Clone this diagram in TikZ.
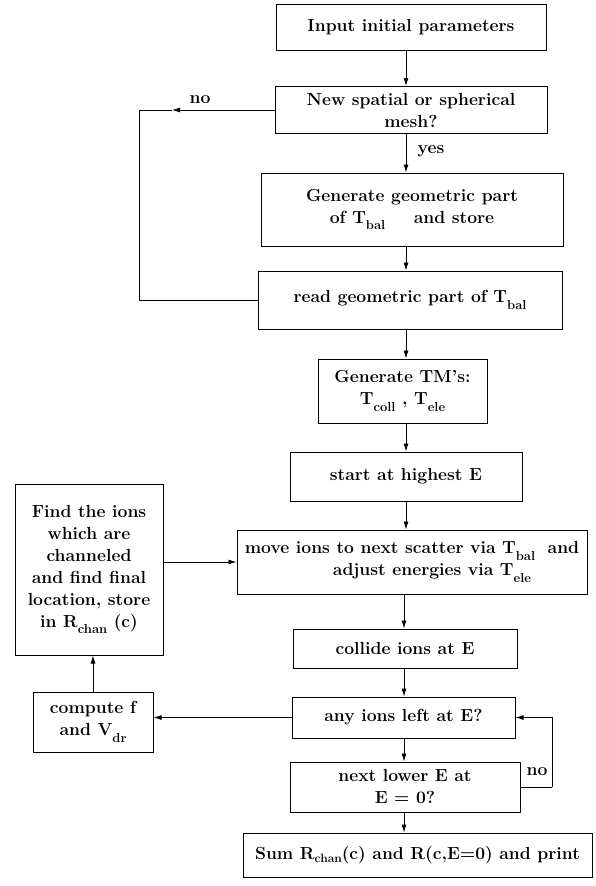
\documentclass[tikz,border=0pt]{standalone}
\usetikzlibrary{arrows.meta}
\newcommand\lsub[1]{\raisebox{-6.5pt}{\fontsize{13}{13}\selectfont #1}}
\newcommand\ssub[1]{\raisebox{-3pt}{\fontsize{12}{12}\selectfont #1}}
\begin{document}
\begin{tikzpicture}[x=1pt,y=-1pt,
  box/.style={draw,line width=1pt,inner sep=0pt,align=center,font=\fontsize{17.5}{22}\selectfont\bfseries},
  arr/.style={line width=0.8pt,-{Latex[length=8pt,width=5pt]}},
  ln/.style={line width=0.8pt},
  lbl/.style={font=\fontsize{17.5}{22}\selectfont\bfseries,inner sep=0pt}]
\useasboundingbox (0,0) rectangle (596,886);
\fill[white] (0,0) rectangle (596,886);

\node[box,minimum width=270pt,minimum height=46pt] (b1) at (411,27) {Input initial parameters};
\node[box,minimum width=272pt,minimum height=47pt] (b2) at (411,110) {New spatial or spherical\\mesh?};
\node[box,minimum width=302pt,minimum height=73pt] (b3) at (412,209.5) {Generate geometric part\\of T\lsub{bal}\hspace{22pt} and store};
\node[box,minimum width=304pt,minimum height=58pt] (b4) at (410,300) {read geometric part of T\lsub{bal}};
\node[box,minimum width=169pt,minimum height=64pt] (b5) at (402.5,391) {Generate TM's:\\T\lsub{coll} , T\lsub{ele}};
\node[box,minimum width=232pt,minimum height=49pt] (b6) at (406,476.5) {start at highest E};
\node[box,minimum width=350pt,minimum height=64pt] (b7) at (412,562) {move ions to next scatter via T\lsub{bal}\hspace{6pt} and\\\hspace*{40pt}adjust energies via T\lsub{ele}};
\node[box,minimum width=224pt,minimum height=39pt] (b8) at (405,648.5) {collide ions at E};
\node[box,minimum width=223pt,minimum height=41pt] (b9) at (403.5,717.5) {any ions left at E?};
\node[box,minimum width=230pt,minimum height=50pt] (b10) at (405,787) {next lower E at\\E = 0?};
\node[box,minimum width=349pt,minimum height=44pt] (b11) at (417.5,855) {Sum R\ssub{chan}(c) and R(c,E=0) and print};
\node[box,minimum width=148pt,minimum height=171pt] (L1) at (89,569.5) {Find the ions\\which are\\channeled\\and find final\\location, store\\in R\lsub{chan} (c)};
\node[box,minimum width=120pt,minimum height=60pt] (L2) at (93,722) {compute f\\and V\lsub{dr}};

\node[lbl] (no1) at (200,100) {no};
\node[lbl] (yes) at (431,151) {yes};
\node[lbl] (no2) at (537,772) {no};

\coordinate (cx) at (406,0);
\coordinate (cy) at (404,0);
\coordinate (nomid) at (172,110);
\coordinate (noleft) at (139,110);
\coordinate (noright) at (552,787);

\draw[arr] (b1.south -| cx) -- (b2.north -| cx);
\draw[arr] (b2.south -| cx) -- (b3.north -| cx);
\draw[arr] (b3.south -| cx) -- (b4.north -| cx);
\draw[arr] (b4.south -| cx) -- (b5.north -| cx);
\draw[arr] (b5.south -| cx) -- (b6.north -| cx);
\draw[arr] (b6.south -| cx) -- (b7.north -| cx);
\draw[arr] (b7.south -| cy) -- (b8.north -| cy);
\draw[arr] (b8.south -| cy) -- (b9.north -| cy);
\draw[arr] (b9.south -| cy) -- (b10.north -| cy);
\draw[arr] (b10.south -| cy) -- (b11.north -| cy);

\draw[arr] (b2.west) -- (nomid);
\draw[ln] (nomid) -- (noleft) |- (b4.west);

\draw[ln] (b10.east) -- (noright);
\draw[arr] (noright) |- (b9.east);

\draw[arr] (b9.west) -- (b9.west -| L2.east);
\draw[arr] (L2.north) -- (L2.north |- L1.south);
\draw[arr] (L1.east |- b7.west) -- (b7.west);
\end{tikzpicture}
\end{document}
